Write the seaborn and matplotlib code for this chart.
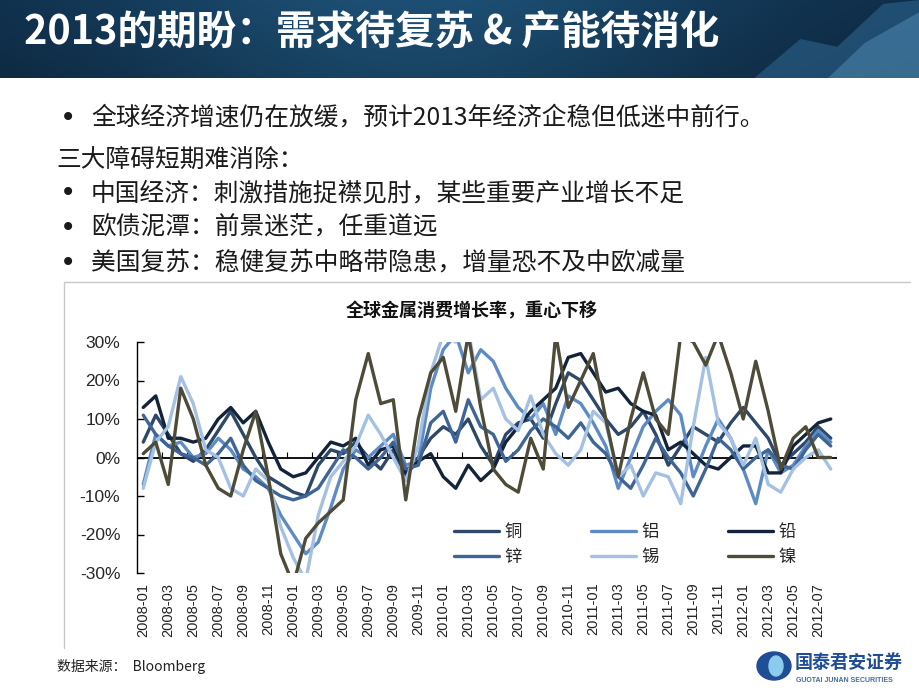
import numpy as np
import pandas as pd
import matplotlib
matplotlib.use("Agg")
import matplotlib.pyplot as plt
import seaborn as sns
from matplotlib.patches import Ellipse, Polygon
from matplotlib.lines import Line2D

# monthly growth rates (%), 2008-01 .. 2012-08
months = pd.period_range("2008-01", "2012-08", freq="M").strftime("%Y-%m").tolist()
tick_labels = months[::2]

copper = [4, 11, 6, 1, -1, 2, 7, 12, 6, 0, -5, -7, -9, -10, -2, 2, 1, 4, 0, -3,
          2, -5, 0, 5, 8, 6, 10, 3, -2, 6, 9, 10, 5, 14, 22, 20, 15, 10, 6, 8,
          12, 6, -2, 3, 8, 6, 4, 9, 13, 9, 5, -2, 1, 4, 8, 5]
aluminium = [-7, 6, 3, 4, 0, 1, 5, 2, -3, -5, -8, -15, -20, -25, -22, -13, -3, 2, 0, 3,
             6, -2, -1, 18, 28, 32, 22, 28, 25, 18, 13, 10, 14, 6, 16, 14, 9, 3, -8, 0,
             8, 12, 15, 11, -5, 3, 10, 5, -3, -12, 2, -4, -2, 3, 7, 4]
lead = [13, 16, 5, 5, 4, 5, 10, 13, 9, 12, 4, -3, -5, -4, 0, 4, 3, 5, -2, 2,
        3, -4, -1, 1, -5, -8, -2, -6, -3, 4, 8, 12, 15, 18, 26, 27, 22, 17, 18, 14,
        12, 11, 2, 4, 1, -2, -3, 0, 3, 3, -4, -4, 3, 6, 9, 10]
zinc = [11, 6, 3, 1, 0, -2, 1, 5, -2, -6, -8, -10, -11, -10, -8, -3, 2, 0, -3, 0,
        4, -3, -2, 9, 12, 4, 15, 8, 6, -1, 2, 7, 10, 8, 5, 9, 4, 1, -5, -8,
        -2, 5, 0, -4, -10, -3, 5, 2, -3, 0, 2, -2, -3, 2, 6, 3]
tin = [-8, 4, 8, 21, 14, 2, 0, -8, -10, -3, -6, -18, -26, -32, -15, -5, -1, 3, 11, 6,
       0, -6, 3, 22, 32, 30, 33, 15, 18, 10, 7, 16, 6, 1, -2, 2, 12, 9, -5, -2,
       -10, -4, -5, -12, 8, 26, 9, 5, -2, 5, -7, -9, -3, 0, 2, -3]
nickel = [1, 4, -7, 18, 10, -2, -8, -10, 2, 12, -5, -25, -33, -21, -17, -14, -11, 15, 27, 14,
          15, -11, 10, 22, 26, 12, 32, 13, -3, -7, -9, 5, -3, 32, 13, 20, 27, 10, -5, 10,
          22, 10, 6, 32, 30, 24, 32, 22, 10, 25, 12, -3, 5, 8, 0, 0]

metals = ["铜", "铝", "铅", "锌", "锡", "镍"]
colors = {"铜": "#2d4868", "铝": "#5e8bc4", "铅": "#13243a",
          "锌": "#3f6496", "锡": "#a4c0e2", "镍": "#4e4b39"}

df = pd.DataFrame({"idx": range(len(months)), "铜": copper, "铝": aluminium, "铅": lead,
                   "锌": zinc, "锡": tin, "镍": nickel})
df = df.melt(id_vars="idx", var_name="metal", value_name="growth")

sns.set_theme(style="white")
plt.rcParams["font.family"] = ["Noto Sans CJK SC", "DejaVu Sans"]

W, H = 920, 690
def fx(x):
    return x / W
def fy(y):
    return 1 - y / H

fig = plt.figure(figsize=(9.2, 6.9), dpi=100)
fig.patch.set_facecolor("white")

# title banner
bax = fig.add_axes([0, fy(78), 1, 78 / H])
xs = np.linspace(0, 1, 400)
ys = np.linspace(0, 1, 60)[:, None]
left = np.array([0x0e, 0x2b, 0x46]) / 255
mid = np.array([0x1d, 0x4f, 0x74]) / 255
t = np.exp(-((xs - 0.45) / 0.35) ** 2)[None, :, None]
grad = left * (1 - t) + mid * t
grad = grad * (0.85 + 0.15 * (1 - ys))[:, :, None]
bax.imshow(grad, aspect="auto", extent=[0, 1, 0, 1], origin="upper")
bax.add_patch(Polygon([[0.82, 0], [0.87, 0.5], [0.91, 0.4], [0.96, 0.95], [1, 1], [1, 0]],
                      closed=True, color="#3a7fb0", alpha=0.4, lw=0))
bax.add_patch(Polygon([[0.90, 0], [0.94, 0.45], [0.97, 0.65], [1, 0.85], [1, 0]],
                      closed=True, color="#6aaad4", alpha=0.35, lw=0))
bax.set_xlim(0, 1)
bax.set_ylim(0, 1)
bax.axis("off")
fig.text(fx(24), fy(33), "2013的期盼：需求待复苏 & 产能待消化", color="white",
         fontsize=28.5, fontweight="bold", va="center", ha="left")

# bullet text
txt_color = "#1a1a1a"
bullets = [(118, True, "全球经济增速仍在放缓，预计2013年经济企稳但低迷中前行。"),
           (160, False, "三大障碍短期难消除："),
           (193, True, "中国经济：刺激措施捉襟见肘，某些重要产业增长不足"),
           (228, True, "欧债泥潭：前景迷茫，任重道远"),
           (263, True, "美国复苏：稳健复苏中略带隐患，增量恐不及中欧减量")]
for y, dot, s in bullets:
    if dot:
        fig.text(fx(60), fy(y), "•", fontsize=20, color=txt_color, va="center",
                 family=["DejaVu Sans"])
        fig.text(fx(91), fy(y), s, fontsize=17.8, color=txt_color, va="center")
    else:
        fig.text(fx(56), fy(y), s, fontsize=17.8, color=txt_color, va="center")

# chart frame (top & left)
fig.add_artist(Line2D([fx(64), fx(910)], [fy(282), fy(282)], color="#c8c8c8", lw=1))
fig.add_artist(Line2D([fx(64), fx(64)], [fy(282), fy(648)], color="#c8c8c8", lw=1))

fig.text(fx(472), fy(311), "全球金属消费增长率，重心下移", fontsize=13, fontweight="bold",
         ha="center", va="center", color="#111111")

ax = fig.add_axes([fx(137), fy(573), 700 / W, 231 / H])
sns.lineplot(data=df, x="idx", y="growth", hue="metal", hue_order=metals, palette=colors,
             lw=2.4, legend=False, ax=ax)
n = len(months)
ax.set_xlim(-0.5, n - 0.5)
ax.set_ylim(-30, 30)
ax.set_xlabel("")
ax.set_ylabel("")
ax.set_yticks(range(-30, 31, 10))
ax.set_yticklabels([f"{v}%" for v in range(-30, 31, 10)], family=["Liberation Sans", "DejaVu Sans"],
                   fontsize=12.5)
ax.set_xticks(range(0, n, 2))
ax.set_xticklabels(tick_labels, rotation=90, family=["Liberation Sans", "DejaVu Sans"],
                   fontsize=10.5, color="#222222")
ax.tick_params(axis="x", length=0, pad=7)
ax.tick_params(axis="y", direction="in", length=5, width=1, color="black", left=True, pad=12)
for side in ["top", "right", "bottom"]:
    ax.spines[side].set_visible(False)
ax.spines["left"].set_color("black")
ax.spines["left"].set_linewidth(1)
ax.axhline(0, color="black", lw=1.3, zorder=1)
ax.vlines(np.arange(1.5, n, 2), 0, 1.3, color="black", lw=0.8, zorder=1)
ax.set_facecolor("none")

order = ["铜", "锌", "铝", "锡", "铅", "镍"]
handles = [Line2D([0], [0], color=colors[m], lw=2.4) for m in order]
ax.legend(handles, order, ncol=3, loc="upper left", bbox_to_anchor=(0.43, 0.285),
          frameon=False, fontsize=12.5, handlelength=2.6, handletextpad=0.3,
          columnspacing=4.0, labelspacing=0.4)

# source & logo
fig.text(fx(57), fy(666), "数据来源：  Bloomberg", fontsize=10, color="#222222", va="center")
fig.add_artist(Ellipse((fx(774), fy(666)), 34 / W, 28 / H, color="#1f4d96", transform=fig.transFigure))
fig.add_artist(Ellipse((fx(776), fy(666)), 14 / W, 20 / H, color="#8ccbec", transform=fig.transFigure))
fig.text(fx(795), fy(662), "国泰君安证券", fontsize=13, fontweight="bold", color="#1f4d96", va="center")
fig.text(fx(796), fy(680), "GUOTAI JUNAN SECURITIES", fontsize=5, fontweight="bold",
         color="#4a6a9a", va="center", family=["Liberation Sans", "DejaVu Sans"])

fig.savefig("out.png", dpi=100)
